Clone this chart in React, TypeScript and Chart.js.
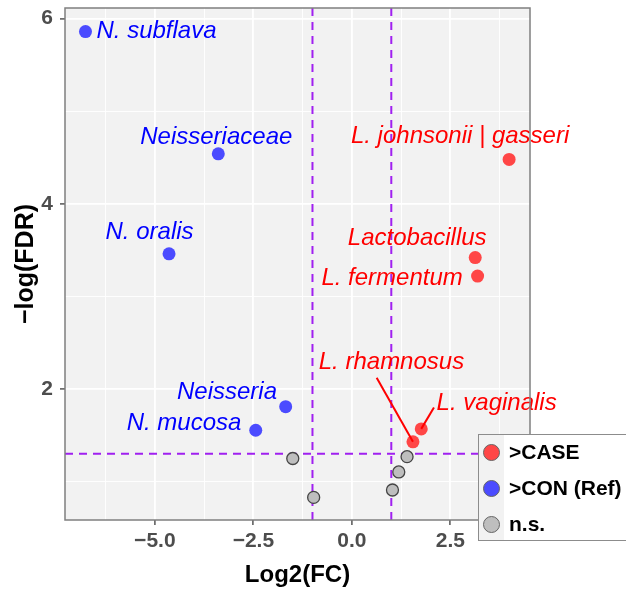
import React, { useEffect, useRef } from 'react';
import { Chart, registerables } from 'chart.js';

Chart.register(...registerables);

// ---- data ----
const caseNames = ['L. johnsonii | gasseri', 'Lactobacillus', 'L. fermentum', 'L. rhamnosus', 'L. vaginalis'];
const caseFC = [3.99, 3.13, 3.19, 1.55, 1.76];
const caseFDR = [4.48, 3.42, 3.22, 1.43, 1.57];

const conNames = ['N. subflava', 'Neisseriaceae', 'N. oralis', 'Neisseria', 'N. mucosa'];
const conFC = [-6.76, -3.39, -4.64, -1.68, -2.44];
const conFDR = [5.86, 4.54, 3.46, 1.81, 1.555];

const nsFC = [-1.5, -0.97, 1.03, 1.19, 1.4];
const nsFDR = [1.25, 0.83, 0.91, 1.105, 1.27];

const xMajor = [-5, -2.5, 0, 2.5];
const xMinor = [-6.25, -3.75, -1.25, 1.25, 3.75];
const yMajor = [2, 4, 6];
const yMinor = [1, 3, 5];

const fcCutoffs = [-1, 1];
const fdrCutoff = 1.301;

const legendLabels = ['>CASE', '>CON (Ref)', 'n.s.'];

// ---- label placement (pixel offsets from the point) ----
const caseLabelOffsets: [number, number][] = [[-49, -22.6], [-58, -19.4], [-85.5, 2.3], [-21.5, -80], [75.4, -25.4]];
const caseLeaderStarts: ([number, number] | null)[] = [null, null, null, [-36.3, -64], [12.7, -21.4]];
const conLabelOffsets: [number, number, string][] = [[11, 0, 'left'], [-2, -17, 'center'], [-19.5, -22, 'center'], [-58.7, -14.6, 'center'], [-71.7, -7, 'center']];

// ---- style ----
const RED = 'rgba(255,70,70,1)';
const BLUE = 'rgba(75,75,255,1)';
const GREY = '#BEBEBE';
const FONT = "'Liberation Sans', Arial, Helvetica, sans-serif";

const isMajorX = (v: number) => xMajor.includes(v);
const isMajorY = (v: number) => yMajor.includes(v);
const fmt = (v: number) => (v < 0 ? '\u2212' : '') + Math.abs(v).toFixed(1);

const volcanoPlugin = {
  id: 'volcano',
  beforeDraw(chart: any) {
    const { ctx, chartArea: a } = chart;
    ctx.save();
    ctx.fillStyle = '#F2F2F2';
    ctx.fillRect(a.left, a.top, a.right - a.left, a.bottom - a.top);
    ctx.restore();
  },
  beforeDatasetsDraw(chart: any) {
    const { ctx, chartArea: a, scales } = chart;
    ctx.save();
    ctx.strokeStyle = '#A020F0';
    ctx.lineWidth = 2;
    ctx.setLineDash([8, 6]);
    fcCutoffs.forEach((v) => {
      const x = scales.x.getPixelForValue(v);
      ctx.beginPath();
      ctx.moveTo(x, a.top);
      ctx.lineTo(x, a.bottom);
      ctx.stroke();
    });
    const y = scales.y.getPixelForValue(fdrCutoff);
    ctx.beginPath();
    ctx.moveTo(a.left, y);
    ctx.lineTo(a.right, y);
    ctx.stroke();
    ctx.restore();
  },
  afterDatasetsDraw(chart: any) {
    const { ctx, scales } = chart;
    ctx.save();
    ctx.font = `italic 24px ${FONT}`;
    ctx.textBaseline = 'middle';
    ctx.fillStyle = '#FF0000';
    ctx.strokeStyle = '#FF0000';
    ctx.lineWidth = 2;
    caseNames.forEach((name, i) => {
      const px = scales.x.getPixelForValue(caseFC[i]);
      const py = scales.y.getPixelForValue(caseFDR[i]);
      const [dx, dy] = caseLabelOffsets[i];
      ctx.textAlign = 'center';
      ctx.fillText(name, px + dx, py + dy);
      const ls = caseLeaderStarts[i];
      if (ls) {
        ctx.beginPath();
        ctx.moveTo(px + ls[0], py + ls[1]);
        ctx.lineTo(px, py);
        ctx.stroke();
      }
    });
    ctx.fillStyle = '#0000FF';
    conNames.forEach((name, i) => {
      const px = scales.x.getPixelForValue(conFC[i]);
      const py = scales.y.getPixelForValue(conFDR[i]);
      const [dx, dy, al] = conLabelOffsets[i];
      ctx.textAlign = al;
      ctx.fillText(name, px + dx, py + dy);
    });
    ctx.restore();
  },
  afterDraw(chart: any) {
    const { ctx, chartArea: a } = chart;
    ctx.save();
    ctx.strokeStyle = '#7F7F7F';
    ctx.lineWidth = 1.5;
    ctx.strokeRect(a.left, a.top, a.right - a.left, a.bottom - a.top);
    const lx = a.right - 52;
    const ly = a.bottom - 86;
    const lw = 160;
    const lh = 107;
    ctx.fillStyle = '#FFFFFF';
    ctx.fillRect(lx, ly, lw, lh);
    ctx.fillStyle = '#F2F2F2';
    ctx.fillRect(lx + 1, ly + 1, 25, lh - 2);
    ctx.strokeStyle = '#8C8C8C';
    ctx.lineWidth = 1;
    ctx.strokeRect(lx + 0.5, ly + 0.5, lw, lh - 1);
    const fills = [RED, BLUE, GREY];
    ctx.font = `bold 21px ${FONT}`;
    ctx.textBaseline = 'middle';
    ctx.textAlign = 'left';
    legendLabels.forEach((lab, i) => {
      const cy = ly + 18.5 + i * 36;
      ctx.beginPath();
      ctx.arc(lx + 13.5, cy, 8, 0, Math.PI * 2);
      ctx.fillStyle = fills[i];
      ctx.fill();
      ctx.strokeStyle = '#666666';
      ctx.lineWidth = 1;
      ctx.stroke();
      ctx.fillStyle = '#000000';
      ctx.fillText(lab, lx + 31, cy + 1);
    });
    ctx.restore();
  },
};

export default function App() {
  const ref = useRef<HTMLCanvasElement | null>(null);
  useEffect(() => {
    if (!ref.current) return;
    const chart = new Chart(ref.current, {
      type: 'scatter',
      data: {
        datasets: [
          {
            label: legendLabels[0],
            data: caseFC.map((x, i) => ({ x, y: caseFDR[i] })),
            backgroundColor: RED,
            borderColor: RED,
            borderWidth: 0,
            pointRadius: 6.5,
          },
          {
            label: legendLabels[1],
            data: conFC.map((x, i) => ({ x, y: conFDR[i] })),
            backgroundColor: BLUE,
            borderColor: BLUE,
            borderWidth: 0,
            pointRadius: 6.5,
          },
          {
            label: legendLabels[2],
            data: nsFC.map((x, i) => ({ x, y: nsFDR[i] })),
            backgroundColor: GREY,
            borderColor: '#444444',
            borderWidth: 1.3,
            pointRadius: 6,
          },
        ],
      },
      options: {
        responsive: false,
        animation: false,
        devicePixelRatio: 1,
        layout: { padding: { left: 0, top: 8, right: 96, bottom: 0 } },
        plugins: { legend: { display: false }, tooltip: { enabled: false } },
        scales: {
          x: {
            type: 'linear',
            min: -7.28,
            max: 4.52,
            afterBuildTicks: (s: any) => {
              s.ticks = [...xMinor, ...xMajor].sort((p, q) => p - q).map((value) => ({ value }));
            },
            afterFit: (s: any) => {
              s.height = 74;
              s.paddingLeft = 0;
              s.paddingRight = 0;
            },
            border: { display: false },
            grid: {
              color: '#FFFFFF',
              lineWidth: (c: any) => (isMajorX(c.tick?.value) ? 1.8 : 0.9),
              tickColor: (c: any) => (isMajorX(c.tick?.value) ? '#555555' : 'rgba(0,0,0,0)'),
              tickLength: 5,
              tickWidth: 1.5,
            },
            ticks: {
              autoSkip: false,
              maxRotation: 0,
              padding: 4,
              color: '#4D4D4D',
              font: { family: FONT, size: 21, weight: 'bold' },
              callback: (v: any) => (isMajorX(v) ? fmt(v) : ''),
            },
            title: {
              display: true,
              text: 'Log2(FC)',
              color: '#000000',
              font: { family: FONT, size: 24, weight: 'bold' },
              padding: { top: 0, bottom: 4 },
            },
          },
          y: {
            type: 'linear',
            min: 0.586,
            max: 6.115,
            afterBuildTicks: (s: any) => {
              s.ticks = [...yMinor, ...yMajor].sort((p, q) => p - q).map((value) => ({ value }));
            },
            afterFit: (s: any) => {
              s.width = 65;
              s.paddingTop = 0;
              s.paddingBottom = 0;
            },
            border: { display: false },
            grid: {
              color: '#FFFFFF',
              lineWidth: (c: any) => (isMajorY(c.tick?.value) ? 1.8 : 0.9),
              tickColor: (c: any) => (isMajorY(c.tick?.value) ? '#555555' : 'rgba(0,0,0,0)'),
              tickLength: 5,
              tickWidth: 1.5,
            },
            ticks: {
              autoSkip: false,
              padding: 7,
              color: '#4D4D4D',
              font: { family: FONT, size: 21, weight: 'bold' },
              callback: (v: any) => (isMajorY(v) ? String(v) : ''),
            },
            title: {
              display: true,
              text: '\u2212log(FDR)',
              color: '#000000',
              font: { family: FONT, size: 25, weight: 'bold' },
              padding: { top: 11, bottom: 0 },
            },
          },
        },
      },
      plugins: [volcanoPlugin],
    } as any);
    return () => chart.destroy();
  }, []);
  return (
    <div style={{ position: 'absolute', left: 0, top: 0, width: 626, height: 594 }}>
      <canvas ref={ref} width={626} height={594} style={{ display: 'block', width: 626, height: 594 }} />
    </div>
  );
}
